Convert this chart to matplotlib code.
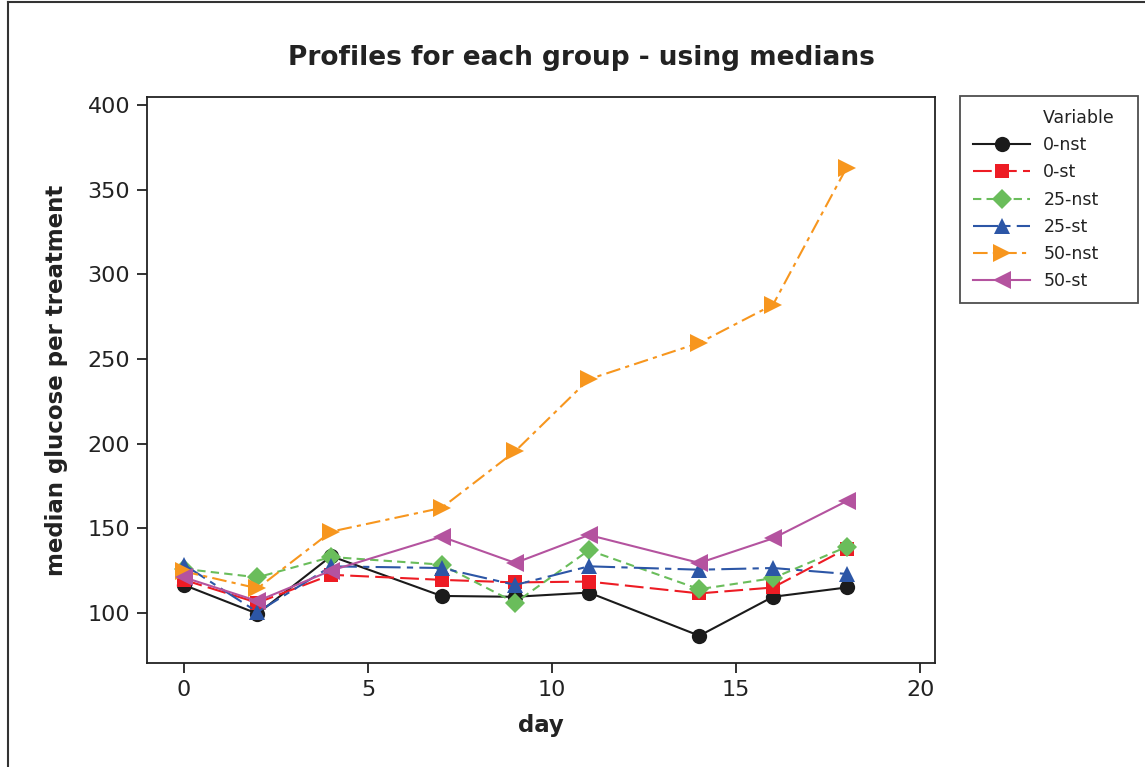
import matplotlib
matplotlib.use('Agg')
import matplotlib.pyplot as plt
from matplotlib.lines import Line2D

# values
days = [0, 2, 4, 7, 9, 11, 14, 16, 18]
nst_0 = [116.5, 99.5, 133.5, 110, 109.5, 112, 86.5, 109.5, 115]
st_0 = [119.5, 106, 122.5, 119.5, 118, 118.5, 111.5, 115, 138]
nst_25 = [126, 121, 133, 128.5, 106, 137, 114, 120.5, 139]
st_25 = [128.5, 100.5, 127.5, 126.5, 116.5, 127.5, 125.5, 126.5, 123]
nst_50 = [124.5, 114.5, 148, 162, 195.5, 238, 259.5, 282, 363]
st_50 = [121, 107, 125, 145, 129.5, 146, 129.5, 144, 166]

labels = ['0-nst', '0-st', '25-nst', '25-st', '50-nst', '50-st']
series = [nst_0, st_0, nst_25, st_25, nst_50, st_50]
colors = ['#1b1b1b', '#ed1c24', '#6abd5b', '#2c56a6', '#f7961e', '#b4539f']
markers = ['o', 's', 'D', '^', '>', '<']
msizes = [11, 10.5, 10.5, 12, 12.5, 12.5]
styles = ['-', (0, (9, 3)), (0, (4, 2.5)), (0, (12, 3, 3, 3)), (0, (7, 2.5, 2, 2.5)), '-']

plt.rcParams['font.family'] = 'DejaVu Sans'

fig = plt.figure(figsize=(11.45, 7.67), dpi=100)
ax = fig.add_axes([0.1284, 0.1356, 0.6882, 0.7379])

for lab, vals, c, m, ms, ls in zip(labels, series, colors, markers, msizes, styles):
    ax.plot(days, vals, color=c, marker=m, markersize=ms, linestyle=ls,
            linewidth=1.5, label=lab, markeredgewidth=0)

ax.set_xlim(-1.0, 20.4)
ax.set_ylim(70.4, 404.7)
ax.set_xticks([0, 5, 10, 15, 20])
ax.set_yticks([100, 150, 200, 250, 300, 350, 400])
ax.tick_params(direction='out', length=7, width=1.3, labelsize=16, colors='#222222',
               top=False, right=False, pad=5)
for sp in ax.spines.values():
    sp.set_linewidth(1.3)
    sp.set_color('#222222')

ax.set_xlabel('day', fontsize=16.5, fontweight='bold', labelpad=10, color='#222222')
ax.set_ylabel('median glucose per treatment', fontsize=16.5, fontweight='bold',
              labelpad=14, color='#222222')
fig.text(0.508, 0.925, 'Profiles for each group - using medians', ha='center', va='center',
         fontsize=19, fontweight='bold', color='#222222')

handles, labs = ax.get_legend_handles_labels()
blank = Line2D([], [], linestyle='none')
leg = fig.legend([blank] + handles, ['Variable  '] + labs, loc='upper left',
                 bbox_to_anchor=(960 / 1145, 1 - 96 / 767), borderaxespad=0,
                 fontsize=12.5, frameon=True, fancybox=False, edgecolor='#222222',
                 handlelength=3.3, labelspacing=0.53, borderpad=0.75, handletextpad=0.75)
leg.get_frame().set_linewidth(1.3)
for t in leg.get_texts():
    t.set_color('#222222')

# outer border (top and left edges visible in the reference)
fig.add_artist(Line2D([8 / 1145, 1], [1 - 2 / 767, 1 - 2 / 767], transform=fig.transFigure,
                      color='#333333', linewidth=1.5))
fig.add_artist(Line2D([8 / 1145, 8 / 1145], [0, 1 - 2 / 767], transform=fig.transFigure,
                      color='#333333', linewidth=1.5))

fig.savefig('out.png', dpi=100)
